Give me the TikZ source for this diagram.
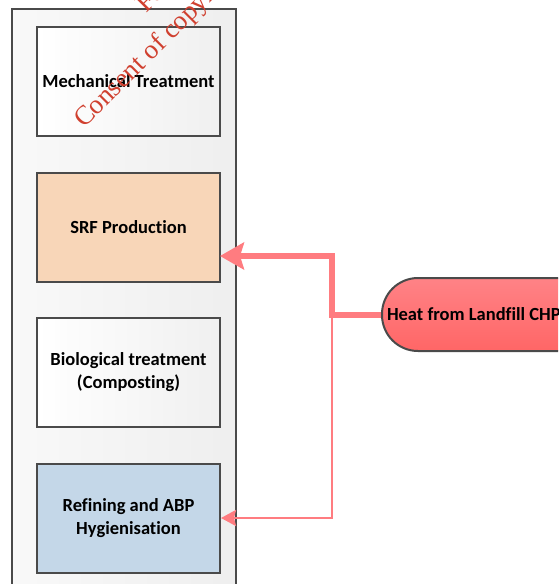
\documentclass[tikz,border=0pt]{standalone}
\usepackage{fontspec}
\setmainfont[Ligatures={NoCommon}]{Carlito}
\newfontfamily\wmfont{Liberation Serif}
\usetikzlibrary{arrows.meta,calc}
\definecolor{edgegray}{HTML}{4A4A4A}
\definecolor{arrowred}{HTML}{FF7C80}
\definecolor{peach}{HTML}{F8D6B8}
\definecolor{paleblue}{HTML}{C4D7E8}
\definecolor{wmred}{HTML}{D0402F}
\tikzset{
  procbox/.style={draw=edgegray, line width=2pt, minimum width=183pt, minimum height=109pt,
    align=center, font=\fontsize{18.5}{23}\selectfont\bfseries, inner sep=2pt},
  plainfill/.style={left color=white, right color=gray!12},
  heatnode/.style={draw=edgegray, line width=2pt, rounded corners=36pt, minimum height=73pt,
    inner xsep=5pt,
    top color=arrowred!95!white, bottom color=red!60!white,
    font=\fontsize{18.5}{22}\selectfont\bfseries},
  thickarrow/.style={draw=arrowred, line width=6pt, -{Stealth[length=24pt,width=27pt,inset=4pt]}},
  thinarrow/.style={draw=arrowred, line width=2.4pt, -{Stealth[length=15pt,width=16pt,inset=2pt]}},
  watermark/.style={text=wmred, font=\wmfont\fontsize{27}{30}\selectfont, rotate=45, anchor=base west, inner sep=0pt}
}
\begin{document}
\begin{tikzpicture}[x=1pt,y=-1pt]
\useasboundingbox (0,0) rectangle (558,584);
\clip (0,0) rectangle (558,584);
\fill[white] (0,0) rectangle (558,584);
% container
\draw[edgegray, line width=2pt, left color=gray!5, right color=gray!13] (12,9) rectangle (236,610);
% boxes
\node[procbox, plainfill] (b1) at (128.5,81.5) {Mechanical Treatment};
\node[procbox, fill=peach] (b2) at (128.5,227.5) {SRF Production};
\node[procbox, plainfill] (b3) at (128.5,372.5) {Biological treatment\\(Composting)};
\node[procbox, fill=paleblue] (b4) at (128.5,518) {Refining and ABP\\Hygienisation};
% heat source
\node[heatnode, anchor=west] (heat) at (381,314.5) {\makebox[260pt][l]{Heat from Landfill CHP}};
% connectors
\coordinate (jt) at (332,314.5);
\coordinate (srfin) at (220,256);
\draw[thickarrow] (heat.west) -- (jt) |- (srfin);
\draw[thinarrow] (jt) |- (b4.east);
% watermark
\node[watermark] (wm1) at (146,14) {For inspection purposes only.};
\node[watermark] (wm2) at (84,129) {Consent of copyright owner required for any other use.};
\end{tikzpicture}
\end{document}
